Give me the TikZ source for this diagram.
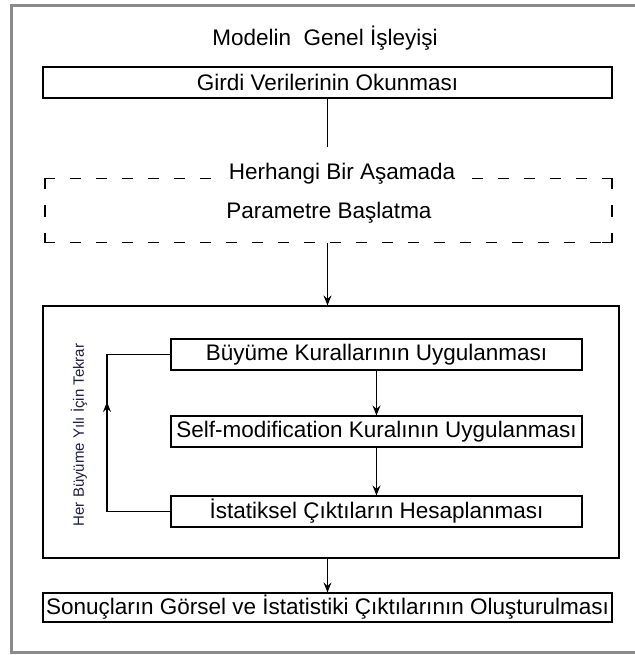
\documentclass[tikz,border=0pt]{standalone}
\usepackage{fontspec}
\setmainfont{Liberation Sans}
\usetikzlibrary{arrows.meta}
\definecolor{framegray}{HTML}{8A8A8A}
\definecolor{labelnavy}{HTML}{1E2040}
\tikzset{
  procbox/.style={draw=black, line width=1.2pt, fill=white, inner sep=0pt,
    font=\fontsize{22.5}{26}\selectfont},
  plaintext/.style={inner sep=0pt, font=\fontsize{22.5}{26}\selectfont},
  flow/.style={line width=1.3pt, -{Stealth[length=10pt,width=8pt,inset=3.5pt]}},
  plainline/.style={line width=1.2pt},
  dashedge/.style={line width=1.2pt}
}
\begin{document}
\begin{tikzpicture}[x=1pt,y=-1pt]
\useasboundingbox (0,0) rectangle (634,655);
\fill[white] (0,0) rectangle (634,655);

% outer page frame
\draw[framegray, line width=3pt] (11,6) rectangle (640,652);

% title
\node[plaintext] (title) at (325,38) {Modelin\ \ Genel İşleyişi};

% reading the input data
\node[procbox, minimum width=569pt, minimum height=31pt] (read) at (327.5,82.5) {Girdi Verilerinin Okunması};
\coordinate (readend) at (327.5,147);
\draw[plainline] (read.south) -- (readend);

% optional parameter initialisation (dashed group)
\node[plaintext] (stage) at (342,174) {Herhangi Bir Aşamada};
\node[plaintext, minimum width=567pt, minimum height=64pt] (param) at (327.5,210.5) {};
\node[plaintext] (paramtext) at (329,213) {Parametre Başlatma};
% corners
\draw[dashedge] (45,188.5) -- (45,178.5) -- (55,178.5);
\draw[dashedge] (45,232.5) -- (45,242.5) -- (55,242.5);
\draw[dashedge] (612,188.5) -- (612,178.5) -- (602,178.5);
\draw[dashedge] (612,232.5) -- (612,242.5) -- (602,242.5);
% side middles
\draw[dashedge] (45,204.5) -- (45,216.5);
\draw[dashedge] (612,204.5) -- (612,216.5);
% top edge, broken by the heading
\foreach \x in {70,96,122,148,174,200}
  \draw[dashedge] (\x,178.5) -- ++(11,0);
\foreach \x in {587,561,535,509,483}
  \draw[dashedge] (\x,178.5) -- ++(-11,0);
% bottom edge
\foreach \x in {70,96,...,590}
  \draw[dashedge] (\x,242.5) -- ++(11,0);

% yearly loop frame
\node[draw=black, line width=1.2pt, inner sep=0pt, minimum width=576pt, minimum height=252pt] (loopframe) at (331,432) {};
\draw[flow] (param.south) -- (param.south |- loopframe.north);

\node[procbox, minimum width=411pt, minimum height=31pt] (grow) at (376.5,354.5) {Büyüme Kurallarının Uygulanması};
\node[procbox, minimum width=411pt, minimum height=31pt] (selfmod) at (376.5,431.5) {Self-modification Kuralının Uygulanması};
\node[procbox, minimum width=411pt, minimum height=31pt] (stats) at (376.5,511.5) {İstatiksel Çıktıların Hesaplanması};

\draw[flow] (grow.south) -- (selfmod.north);
\draw[flow] (selfmod.south) -- (stats.north);

% feedback loop
\coordinate (loopbottom) at (107,511.5);
\coordinate (looptop) at (107,354.5);
\coordinate (loopmid) at (107,402);
\draw[plainline] (stats.west) -- (loopbottom) -- (looptop) -- (grow.west);
\draw[flow] (loopbottom) -- (loopmid);

\node[inner sep=0pt, rotate=90, text=labelnavy, font=\fontsize{15}{18}\selectfont] (repeat) at (79,435) {Her Büyüme Yılı İçin Tekrar};

% results
\node[procbox, minimum width=569pt, minimum height=29pt] (result) at (327.5,607.5) {Sonuçların Görsel ve İstatistiki Çıktılarının Oluşturulması};
\draw[flow] (result.north |- loopframe.south) -- (result.north);
\end{tikzpicture}
\end{document}
